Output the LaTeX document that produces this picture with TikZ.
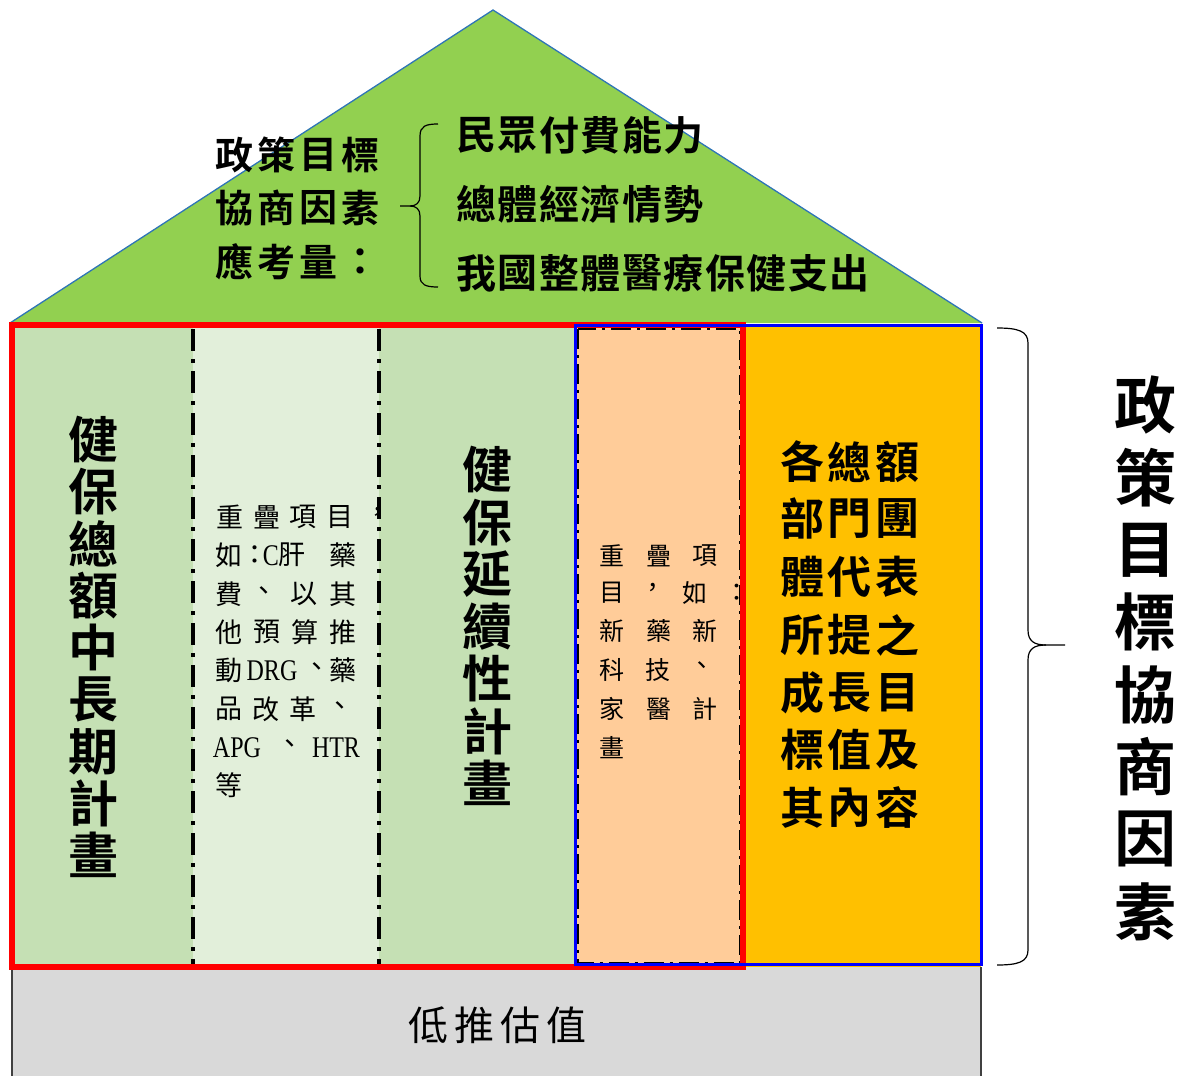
\documentclass[tikz,border=0pt]{standalone}
\usepackage{fontspec}
\newfontfamily\cjk{Noto Sans CJK TC}
\newfontfamily\cjkb{Noto Sans CJK TC Bold}
\newfontfamily\latinserif{Liberation Serif}
\definecolor{roofgreen}{HTML}{92D050}
\definecolor{roofline}{HTML}{2E75B6}
\definecolor{colgreen}{HTML}{C5E0B4}
\definecolor{colpale}{HTML}{E2EFDA}
\definecolor{colpeach}{HTML}{FFCC99}
\definecolor{colgold}{HTML}{FFC000}
\definecolor{basegrey}{HTML}{D9D9D9}
\newcommand\charrow[6]{%
  \foreach \ch [count=\k from 0] in {#6}
    \node[#5, name=#1-\k] at ({#2+#4*\k},#3) {\ch};}
\newcommand\charcol[6]{%
  \foreach \ch [count=\k from 0] in {#6}
    \node[#5, name=#1-\k] at (#2,{#3+#4*\k}) {\ch};}
\tikzset{
  ch/.style={inner sep=0pt, outer sep=0pt, anchor=center},
  bigbold/.style={ch, font=\cjkb\fontsize{50}{50}\selectfont},
  roofbold/.style={ch, font=\cjkb\fontsize{38}{38}\selectfont},
  rooftext/.style={ch, font=\cjkb\fontsize{40}{40}\selectfont},
  goldbold/.style={ch, font=\cjkb\fontsize{44}{44}\selectfont},
  sidebold/.style={ch, font=\cjkb\fontsize{62}{62}\selectfont},
  small/.style={ch, font=\cjk\fontsize{27}{27}\selectfont},
  smallpeach/.style={ch, font=\cjk\fontsize{25}{25}\selectfont},
  latin/.style={ch, font=\latinserif\fontsize{30}{30}\selectfont},
  basetext/.style={ch, font=\cjk\fontsize{40}{40}\selectfont},
  dashdot/.style={line width=3.6pt, dash pattern=on 22pt off 8pt on 4pt off 8pt},
  thindashdot/.style={line width=2.4pt, dash pattern=on 20pt off 6pt on 3pt off 6pt},
}
\begin{document}
\begin{tikzpicture}[x=1pt,y=-1pt]
\useasboundingbox (0,0) rectangle (1181,1076);
% roof
\coordinate (roofL) at (10,323);
\coordinate (roofT) at (493,10);
\coordinate (roofR) at (982,323);
\fill[roofgreen] (roofL) -- (roofT) -- (roofR) -- cycle;
\draw[roofline, line width=1.3pt] (roofL) -- (roofT) -- (roofR);
% base
\fill[basegrey] (12,967) rectangle (981,1080);
\draw[black!75, line width=1.2pt] (12,967) -- (12,1080) (981,967) -- (981,1080);
% columns
\fill[colgreen] (12,325) rectangle (193,967);
\fill[colpale]  (193,325) rectangle (379,967);
\fill[colgreen] (379,325) rectangle (575,967);
\fill[colpeach] (575,325) rectangle (743,967);
\fill[colgold]  (743,325) rectangle (981,967);
% dash-dot separators
\draw[dashdot] (193,329) -- (193,965);
\draw[dashdot] (379,329) -- (379,965);
% inner dashed rectangle in peach column
\draw[thindashdot] (577.5,329) rectangle (740,963);
% red and blue frames
\draw[red, line width=6pt] (12,325) rectangle (743,967);
\draw[blue, line width=3pt] (575,325) rectangle (981,964.5);
% roof texts
\charrow{ra}{234}{155}{42}{roofbold}{政,策,目,標}
\charrow{rb}{234}{208}{42}{roofbold}{協,商,因,素}
\charrow{rc}{234}{262}{42}{roofbold}{應,考,量,：}
\draw[line width=1.2pt] (438,124) .. controls (426,124) and (420,126) .. (420,136)
  -- (420,196) .. controls (420,203) and (416,206) .. (410,206) -- (400,206);
\draw[line width=1.2pt] (438,287) .. controls (426,287) and (420,285) .. (420,276)
  -- (420,216) .. controls (420,209) and (416,206) .. (410,206);
\charrow{rd}{476}{135}{41.5}{rooftext}{民,眾,付,費,能,力}
\charrow{re}{476}{204}{41.5}{rooftext}{總,體,經,濟,情,勢}
\charrow{rf}{476}{273}{41.5}{rooftext}{我,國,整,體,醫,療,保,健,支,出}
% column 1 & 3 vertical titles
\charcol{ca}{93}{440}{51.9}{bigbold}{健,保,總,額,中,長,期,計,畫}
\charcol{cc}{487}{470}{52.2}{bigbold}{健,保,延,續,性,計,畫}
% column 2 small text
\charrow{b1}{230}{517}{36.5}{small}{重,疊,項,目}
\node[small, name=b1c] at (378,514) {，};
\node[small, name=b2a] at (229,555) {如};
\node[small, name=b2b] at (255,555) {：};
\node[latin, name=b2c] at (271,556) {\scalebox{0.8}[1]{C}};
\node[small, name=b2d] at (292,555) {肝};
\node[small, name=b2e] at (343,555) {藥};
\node[small, name=b3a] at (229,594) {費};
\node[small, name=b3b] at (264,594) {、};
\node[small, name=b3c] at (304,594) {以};
\node[small, name=b3d] at (343,594) {其};
\charrow{b4}{229}{632}{38}{small}{他,預,算,推}
\node[small, name=b5a] at (229,670) {動};
\node[latin, name=b5b] at (272,671) {\scalebox{0.8}[1]{DRG}};
\node[small, name=b5c] at (317,670) {、};
\node[small, name=b5d] at (343,670) {藥};
\charrow{b6}{229}{709}{37}{small}{品,改,革,、}
\node[latin, name=b7a] at (237,748) {\scalebox{0.8}[1]{APG}};
\node[small, name=b7b] at (290,747) {、};
\node[latin, name=b7c] at (336,748) {\scalebox{0.8}[1]{HTR}};
\node[small, name=b8a] at (229,785) {等};
% column 4 small text
\charrow{p1}{612}{556}{46.5}{smallpeach}{重,疊,項}
\node[smallpeach, name=p2a] at (612,593) {目};
\node[smallpeach, name=p2b] at (653,590) {，};
\node[smallpeach, name=p2c] at (695,593) {如};
\node[smallpeach, name=p2d] at (737,593) {：};
\charrow{p3}{612}{631}{46.5}{smallpeach}{新,藥,新}
\node[smallpeach, name=p4a] at (612,670) {科};
\node[smallpeach, name=p4b] at (658,670) {技};
\node[smallpeach, name=p4c] at (702,668) {、};
\charrow{p5}{612}{709}{46.5}{smallpeach}{家,醫,計}
\node[smallpeach, name=p6a] at (612,748) {畫};
% column 5 bold text
\charrow{g1}{802}{462}{47.5}{goldbold}{各,總,額}
\charrow{g2}{802}{519}{47.5}{goldbold}{部,門,團}
\charrow{g3}{802}{577}{47.5}{goldbold}{體,代,表}
\charrow{g4}{802}{635}{47.5}{goldbold}{所,提,之}
\charrow{g5}{802}{693}{47.5}{goldbold}{成,長,目}
\charrow{g6}{802}{750}{47.5}{goldbold}{標,值,及}
\charrow{g7}{802}{808}{47.5}{goldbold}{其,內,容}
% base text
\charrow{lo}{428}{1025}{46}{basetext}{低,推,估,值}
% right brace and side title
\draw[line width=1.2pt] (997,328) .. controls (1018,328) and (1028,331) .. (1028,343)
  -- (1028,630) .. controls (1028,641) and (1034,645) .. (1046,645) -- (1065,645);
\draw[line width=1.2pt] (997,965) .. controls (1018,965) and (1028,962) .. (1028,950)
  -- (1028,660) .. controls (1028,649) and (1034,645) .. (1046,645);
\charcol{sd}{1145}{405}{72.4}{sidebold}{政,策,目,標,協,商,因,素}
\end{tikzpicture}
\end{document}
